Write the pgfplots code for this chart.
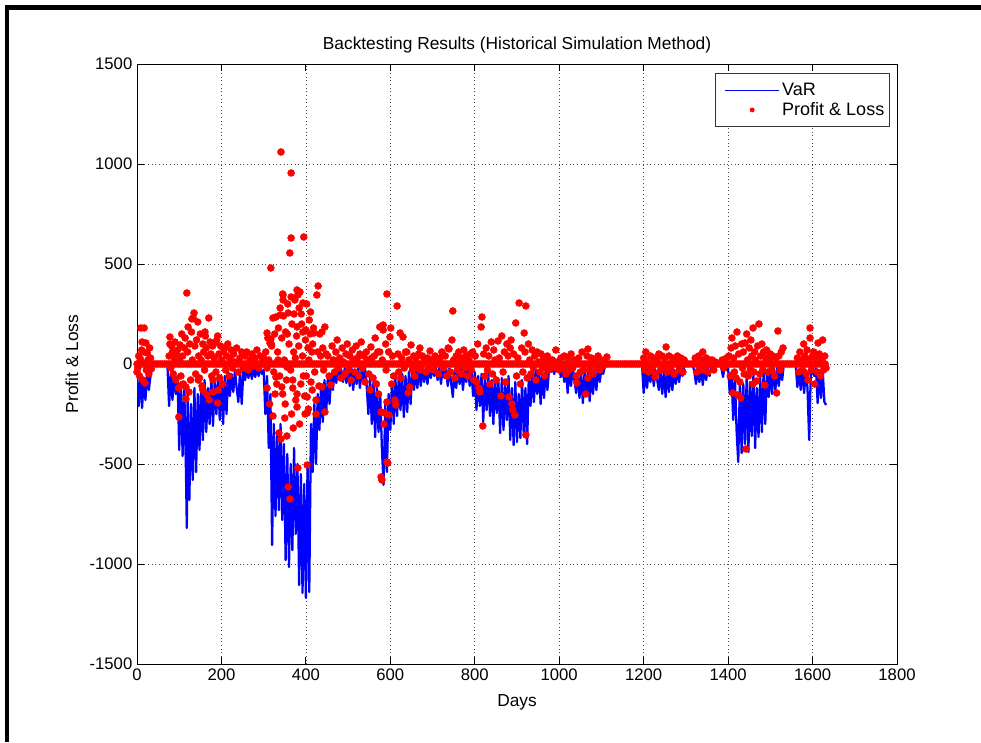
\documentclass[border=0pt]{standalone}
\usepackage{pgfplots}
\pgfplotsset{compat=1.18}
\usepackage{fontspec}
\setmainfont{Liberation Sans}

\begin{document}
\begin{tikzpicture}[x=0.75pt,y=0.75pt]
% page = 981 x 742 px, 1 px = 0.75pt
\useasboundingbox (0,0) rectangle (981,742);
% thick frame left and top (cropped window border)
\fill[black] (5,732) rectangle (981,737);
\fill[black] (5,0) rectangle (9,737);

\begin{axis}[
    at={(102.75pt,58.5pt)}, anchor=south west,
    scale only axis,
    width=570pt, height=450pt,
    xmin=0, xmax=1800, ymin=-1500, ymax=1500,
    xtick={0,200,...,1800},
    ytick={-1500,-1000,...,1500},
    scaled ticks=false,
    /pgf/number format/1000 sep={},
    /pgf/number format/assume math mode=true,
    tick label style={font=\fontsize{12.5}{14}\selectfont},
    label style={font=\fontsize{13}{15}\selectfont},
    every axis title shift=0pt,
    title style={font=\fontsize{13}{15}\selectfont, at={(axis description cs:0.5,1.0317)}, anchor=center},
    title={Backtesting Results (Historical Simulation Method)},
    xlabel={Days},
    ylabel={Profit \& Loss},
    xlabel style={at={(axis description cs:0.5,-0.0633)}, anchor=center},
    ylabel style={at={(axis description cs:-0.0855,0.5)}, anchor=center},
    tick align=inside,
    major tick length=5.25pt,
    xtick pos=both, ytick pos=both,
    axis line style={black, line width=0.6pt},
    every tick/.style={black, line width=0.6pt},
    grid=major,
    major grid style={black!70, line width=0.55pt, dash pattern=on 0.55pt off 2.2pt},
    legend style={at={(1,1)}, anchor=north east, xshift=-5.25pt, yshift=-6.75pt,
        draw=black!80, line width=0.6pt, fill=white,
        font=\fontsize{13.5}{15}\selectfont, inner xsep=2pt, inner ysep=5pt,
        row sep=0pt},
    legend cell align=left,
]

% VaR (historical simulation)
\addplot[color=blue, line width=1.7pt, line join=round,
    legend image code/.code={\path[draw=none] (-5pt,0pt) -- (40.5pt,0pt);
        \draw[blue,line width=0.6pt] (0pt,0pt) -- (40.5pt,0pt);}]
coordinates {
(0,-60)(4,-210)(8,-50)(12,-220)(16,-70)(20,-180)(24,-40)(28,-130)(32,-60)(36,0)(72,0)
(76,-210)(80,-50)(84,-180)(88,-40)(92,-150)(96,-60)(100,-430)(104,-90)(108,-460)(112,-120)
(116,-540)(118,-820)(120,-150)(124,-680)(128,-200)(132,-580)(136,-120)(140,-540)(144,-150)(148,-430)
(152,-100)(156,-380)(160,-80)(164,-340)(168,-120)(172,-300)(176,-60)(180,-310)(184,-90)(188,-250)
(192,-50)(196,-280)(200,-70)(204,-300)(208,-60)(212,-250)(216,-40)(220,-160)(224,-50)(228,-140)
(232,-30)(236,-120)(240,-190)(244,-40)(248,-200)(252,-30)(256,-80)(260,-20)(264,-70)(268,-20)
(272,-75)(276,-20)(280,-65)(284,-20)(288,-60)(292,-15)(296,-50)(300,-30)(304,-250)(308,-60)
(312,-420)(316,-150)(320,-905)(324,-300)(328,-760)(332,-350)(336,-730)(340,-300)(344,-780)(348,-400)
(352,-980)(356,-450)(360,-1015)(364,-500)(368,-930)(372,-420)(376,-850)(380,-500)(384,-1105)(388,-550)
(392,-1145)(396,-600)(400,-1170)(404,-500)(408,-1140)(412,-300)(416,-540)(420,-200)(424,-500)(428,-150)
(432,-330)(436,-100)(440,-290)(444,-80)(448,-250)(452,-60)(456,-200)(460,-50)(464,-130)(468,-30)
(472,-95)(476,-20)(480,-80)(484,-30)(488,-90)(492,-20)(496,-95)(500,-30)(504,-110)(508,-20)
(512,-130)(516,-30)(520,-100)(524,-20)(528,-120)(532,-30)(536,-90)(540,-20)(544,-110)(548,-250)
(552,-60)(556,-300)(560,-90)(564,-365)(568,-120)(572,-340)(576,-150)(580,-420)(584,-605)(588,-200)
(592,-540)(596,-150)(600,-330)(604,-90)(608,-300)(612,-70)(616,-260)(620,-60)(624,-230)(628,-50)
(632,-265)(636,-60)(640,-240)(644,-40)(648,-200)(652,-30)(656,-130)(660,-30)(664,-120)(668,-20)
(672,-110)(676,-20)(680,-90)(684,-20)(688,-100)(692,-15)(696,-70)(700,-15)(704,-60)(708,-15)
(712,-80)(716,-20)(720,-100)(724,-15)(728,-70)(732,-20)(736,-110)(740,-20)(744,-95)(748,-165)
(752,-30)(756,-120)(760,-20)(764,-100)(768,-20)(772,-130)(776,-30)(780,-90)(784,-15)(788,-110)
(792,-30)(796,-160)(800,-40)(804,-230)(808,-60)(812,-210)(816,-50)(820,-290)(824,-70)(828,-230)
(832,-50)(836,-260)(840,-80)(844,-300)(848,-60)(852,-245)(856,-90)(860,-345)(864,-70)(868,-330)
(872,-100)(876,-280)(880,-60)(884,-380)(888,-120)(892,-405)(896,-90)(900,-390)(904,-150)(908,-370)
(912,-80)(916,-355)(920,-120)(924,-400)(928,-60)(932,-210)(936,-40)(940,-190)(944,-30)(948,-150)
(952,-30)(956,-200)(960,-40)(964,-170)(968,-20)(972,-130)(976,-20)(980,-40)(984,-15)(988,-50)
(992,-15)(996,-30)(1000,-15)(1004,-65)(1008,-20)(1012,-90)(1016,-20)(1020,-145)(1024,-30)(1028,-110)
(1032,-20)(1036,-80)(1040,-145)(1044,-40)(1048,-170)(1052,-50)(1056,-195)(1060,-40)(1064,-160)(1068,-30)
(1072,-185)(1076,-40)(1080,-150)(1084,-30)(1088,-130)(1092,-20)(1096,-90)(1100,-20)(1104,-50)(1108,-15)
(1112,0)(1196,0)
(1200,-145)(1204,-30)(1208,-120)(1212,-20)(1216,-90)(1220,-15)(1224,-110)(1228,-30)(1232,-80)(1236,-130)
(1240,-30)(1244,-150)(1248,-40)(1252,-165)(1256,-30)(1260,-140)(1264,-20)(1268,-130)(1272,-30)(1276,-100)
(1280,-20)(1284,-90)(1288,-15)(1292,-60)(1296,-10)(1300,0)(1316,0)
(1320,-40)(1324,-100)(1328,-20)(1332,-90)(1336,-15)(1340,-105)(1344,-20)(1348,-80)(1352,-15)(1356,-60)
(1360,-20)(1364,-10)(1368,-30)(1372,0)(1380,0)(1384,-20)(1388,-65)(1392,-10)(1396,-30)(1400,-20)
(1404,-150)(1408,-40)(1412,-280)(1416,-60)(1420,-330)(1424,-490)(1428,-80)(1432,-445)(1436,-100)(1440,-400)
(1444,-60)(1448,-440)(1452,-90)(1456,-360)(1460,-50)(1464,-420)(1468,-120)(1472,-365)(1476,-60)(1480,-340)
(1484,-40)(1488,-300)(1492,-30)(1496,-165)(1500,-30)(1504,-150)(1508,-20)(1512,-130)(1516,-20)(1520,-110)
(1524,-20)(1528,-80)(1532,0)(1560,0)
(1564,-115)(1568,-30)(1572,-130)(1576,-20)(1580,-145)(1584,-30)(1588,-120)(1592,-380)(1596,-30)(1600,-40)
(1604,-60)(1608,-20)(1612,-195)(1616,-40)(1620,-170)(1624,-30)(1628,-190)(1632,-205)
};
\addlegendentry{VaR}

% Profit & Loss, non-zero days
\addplot[only marks, mark=*, mark size=2.6pt, mark options={draw=red, fill=red},
    legend image code/.code={\path[draw=none] (-5pt,0pt) -- (40.5pt,0pt);
        \fill[red] (20.25pt,0pt) circle (1.5pt);}]
coordinates {
(0,-40)(2,-20)(4,40)(6,-60)(8,25)(9,180)(11,70)(12,110)(14,-80)(16,60)(17,180)(19,-95)(21,105)
(22,-30)(24,55)(26,20)(28,-50)(30,80)(32,30)(34,-25)
(76,40)(78,135)(78,100)(80,-20)(82,90)(84,60)(86,-50)(88,30)(90,110)(92,-80)(94,45)(96,70)(98,-120)
(99,-265)(100,20)(102,95)(102,-110)(104,-60)(106,150)(108,40)(110,-100)(112,80)(114,130)(116,-175)
(116,-115)(118,355)(120,60)(121,185)(123,-140)(125,100)(127,-80)(129,160)(130,225)(131,20)(133,230)
(135,255)(137,90)(139,-50)(141,120)(144,210)(145,-80)(146,40)(148,-70)(150,150)(152,20)(154,-110)
(156,100)(156,-130)(158,60)(160,-30)(161,160)(162,140)(164,80)(166,-155)(168,40)(170,230)(171,-180)
(173,110)(175,50)(177,-60)(179,90)(180,-80)(181,-140)(183,30)(185,105)(187,-40)(189,120)(191,140)
(191,-195)(193,-130)(194,50)(196,-70)(198,90)(200,20)(203,-100)(205,60)(208,80)(210,-30)(212,40)
(215,100)(218,-60)(220,30)(223,70)(226,-20)(229,50)(232,10)(236,80)(240,-40)(244,30)(248,60)
(252,-20)(256,40)(260,60)(264,-30)(268,20)(272,50)(276,-10)(280,30)(284,70)(288,-20)(292,40)
(296,10)(300,30)(303,20)
(305,60)(308,-120)(308,155)(308,-20)(310,130)(312,20)(314,-200)(315,105)(317,480)(317,125)(318,100)
(319,90)(322,230)(322,-260)(324,-40)(326,150)(327,-150)(329,235)(329,-65)(331,-100)(333,60)(334,20)
(335,180)(336,-345)(338,-60)(339,280)(339,245)(341,1060)(341,-375)(343,130)(343,-115)(345,-150)
(345,350)(346,345)(346,320)(347,240)(349,20)(350,-270)(351,-200)(352,160)(354,-80)(355,-360)
(355,-15)(356,150)(357,300)(358,-615)(358,255)(360,100)(362,555)(362,-675)(364,-30)(365,955)
(365,630)(365,335)(366,-250)(367,200)(369,-120)(369,-80)(370,-320)(371,60)(372,250)(374,320)
(375,30)(376,-180)(378,140)(379,370)(379,-215)(379,185)(379,-150)(381,-520)(381,345)(383,90)
(383,360)(384,280)(385,-300)(386,360)(388,-100)(389,250)(390,200)(392,40)(393,305)(393,160)
(394,-60)(395,635)(397,-160)(398,-250)(399,120)(400,170)(401,-60)(402,300)(403,-505)(403,-245)
(403,-165)(405,80)(406,-225)(407,20)(408,220)(410,150)(411,260)(412,-90)(414,60)(415,-130)
(416,100)(418,180)(419,155)(421,-40)(424,-180)(424,-250)(426,345)(428,60)(429,390)(431,-110)
(433,150)(435,40)(438,160)(438,-115)(440,80)(442,-30)(445,185)(445,-240)(448,50)
(452,40)(455,-60)(459,-105)(462,90)(465,20)(468,-40)(471,60)(474,120)(477,-20)(480,30)
(483,-70)(486,80)(489,10)(492,-50)(495,50)(498,100)(501,-30)(504,40)(507,-80)(510,70)
(513,20)(516,-40)(519,90)(522,30)(525,-60)(528,50)(531,110)(534,-20)(537,40)(540,-90)
(543,60)(546,20)(549,-50)(552,-130)(554,85)(556,30)(559,-70)(562,40)(564,130)
(567,-100)(570,60)(572,-150)(575,60)(575,185)(578,-565)(578,-240)(580,-580)(581,20)(583,195)
(583,170)(585,-300)(587,-245)(589,100)(590,-30)(592,350)(592,-490)(592,-190)(594,-495)(596,60)
(597,-255)(599,135)(601,180)(603,-100)(605,40)(608,-60)(611,-180)(613,-205)(616,290)(618,50)
(620,-40)(623,155)(625,-70)(627,30)(630,135)(633,-20)(636,60)(639,60)(642,-145)(644,20)
(646,-115)(649,95)(652,-30)(655,40)(658,-60)(661,30)(664,-20)(667,50)(670,80)(673,-30)
(676,40)(680,20)(684,-40)(688,30)(692,-20)(694,65)(698,20)
(702,-30)(706,40)(710,10)(714,-50)(718,30)(722,60)(726,-20)(730,40)(734,-60)(737,80)
(739,75)(742,-40)(746,120)(748,265)(750,20)(753,-70)(756,40)(759,-30)(762,60)(765,10)
(768,-50)(771,30)(774,70)(777,-20)(780,40)(783,-60)(786,20)(789,50)(792,-30)(795,60)(798,-80)
(801,40)(804,-90)(807,100)(810,-120)(812,-140)(815,185)(817,235)(819,-310)(821,50)(824,-60)
(827,80)(830,-30)(833,40)(836,-100)(839,110)(842,-50)(845,70)(848,20)(851,-80)(855,115)
(858,30)(862,-160)(864,140)(867,-40)(870,60)(873,-90)(876,100)(879,40)(881,-165)(884,80)
(886,120)(888,-200)(890,-230)(892,50)(895,-255)(897,205)(899,-60)(902,30)(905,305)(908,-100)
(911,80)(914,-40)(917,155)(919,60)(921,290)(921,-355)(924,-70)(927,100)(930,20)(933,-50)
(936,70)(939,-20)(942,40)(945,-80)(948,60)(951,10)(954,-40)(957,50)(960,-20)(963,30)
(966,-60)(969,20)(972,40)(975,-30)(978,20)
(984,20)(988,-20)(992,70)(996,10)(1000,-30)(1004,30)(1008,-20)(1012,40)(1016,-50)(1020,30)
(1024,-30)(1028,50)(1032,-20)(1036,20)(1040,-60)(1042,-95)(1046,30)(1050,-40)(1054,60)(1058,-30)
(1063,-150)(1066,40)(1068,75)(1068,-70)(1072,-30)(1076,30)(1080,-50)(1084,20)(1088,-20)(1092,40)
(1096,-30)(1100,20)(1104,-10)(1108,20)(1113,35)
(1200,30)(1203,-30)(1205,60)(1208,10)(1212,-40)(1216,40)(1220,-20)(1224,30)(1227,-65)(1228,-50)
(1232,20)(1236,50)(1240,-30)(1244,40)(1248,-20)(1250,30)(1253,85)(1256,-40)(1260,40)(1264,-20)
(1268,30)(1272,-50)(1276,20)(1280,40)(1284,-30)(1288,30)(1293,-40)(1296,20)
(1322,30)(1326,-40)(1330,40)(1334,-30)(1338,20)(1340,60)(1344,-30)(1348,30)(1352,-40)(1356,20)
(1362,20)(1366,-30)(1370,10)(1386,20)(1390,-20)(1396,30)
(1402,40)(1405,-60)(1407,80)(1409,130)(1411,-145)(1413,30)(1415,-40)(1417,90)(1419,-70)(1421,160)
(1423,-155)(1425,50)(1428,-90)(1430,-170)(1432,100)(1434,-20)(1436,60)(1438,-50)(1440,105)(1442,-425)
(1444,150)(1446,20)(1448,-60)(1450,80)(1452,-30)(1454,120)(1456,40)(1459,180)(1459,-100)(1461,-40)
(1463,60)(1465,20)(1468,-85)(1470,90)(1473,200)(1475,-50)(1477,40)(1480,100)(1482,-30)(1484,60)
(1487,-105)(1489,30)(1491,70)(1494,-40)(1497,20)(1500,50)(1503,-30)(1506,40)(1510,-60)(1513,30)
(1515,-145)(1518,165)(1520,40)(1523,-30)(1526,60)(1530,80)
(1564,30)(1567,-40)(1570,60)(1573,20)(1576,-30)(1579,100)(1582,40)(1585,-50)(1587,70)(1589,-80)
(1591,20)(1594,180)(1594,130)(1597,-30)(1600,40)(1603,60)(1605,-100)(1608,30)(1611,-40)(1613,105)
(1616,50)(1619,-60)(1622,20)(1624,120)(1626,-30)(1629,40)(1632,-20)
};
\addlegendentry{Profit \& Loss}

% Profit & Loss, days with zero result (solid band at 0)
\addplot[only marks, mark=*, mark size=2.6pt, mark options={draw=red, fill=red}, forget plot]
coordinates {
(0,0)(5,0)(10,0)(15,0)(20,0)(25,0)(30,0)(35,0)(40,0)(45,0)(50,0)(55,0)(60,0)(65,0)(70,0)(75,0)(80,0)(85,0)(90,0)(95,0)
(100,0)(105,0)(110,0)(115,0)(120,0)(125,0)(130,0)(135,0)(140,0)(145,0)(150,0)(155,0)(160,0)(165,0)(170,0)(175,0)(180,0)(185,0)(190,0)(195,0)
(200,0)(205,0)(210,0)(215,0)(220,0)(225,0)(230,0)(235,0)(240,0)(245,0)(250,0)(255,0)(260,0)(265,0)(270,0)(275,0)(280,0)(285,0)(290,0)(295,0)
(300,0)(305,0)(310,0)(315,0)(320,0)(325,0)(330,0)(335,0)(340,0)(345,0)(350,0)(355,0)(360,0)(365,0)(370,0)(375,0)(380,0)(385,0)(390,0)(395,0)
(400,0)(405,0)(410,0)(415,0)(420,0)(425,0)(430,0)(435,0)(440,0)(445,0)(450,0)(455,0)(460,0)(465,0)(470,0)(475,0)(480,0)(485,0)(490,0)(495,0)
(500,0)(505,0)(510,0)(515,0)(520,0)(525,0)(530,0)(535,0)(540,0)(545,0)(550,0)(555,0)(560,0)(565,0)(570,0)(575,0)(580,0)(585,0)(590,0)(595,0)
(600,0)(605,0)(610,0)(615,0)(620,0)(625,0)(630,0)(635,0)(640,0)(645,0)(650,0)(655,0)(660,0)(665,0)(670,0)(675,0)(680,0)(685,0)(690,0)(695,0)
(700,0)(705,0)(710,0)(715,0)(720,0)(725,0)(730,0)(735,0)(740,0)(745,0)(750,0)(755,0)(760,0)(765,0)(770,0)(775,0)(780,0)(785,0)(790,0)(795,0)
(800,0)(805,0)(810,0)(815,0)(820,0)(825,0)(830,0)(835,0)(840,0)(845,0)(850,0)(855,0)(860,0)(865,0)(870,0)(875,0)(880,0)(885,0)(890,0)(895,0)
(900,0)(905,0)(910,0)(915,0)(920,0)(925,0)(930,0)(935,0)(940,0)(945,0)(950,0)(955,0)(960,0)(965,0)(970,0)(975,0)(980,0)(985,0)(990,0)(995,0)
(1000,0)(1005,0)(1010,0)(1015,0)(1020,0)(1025,0)(1030,0)(1035,0)(1040,0)(1045,0)(1050,0)(1055,0)(1060,0)(1065,0)(1070,0)(1075,0)(1080,0)(1085,0)(1090,0)(1095,0)
(1100,0)(1105,0)(1110,0)(1115,0)(1120,0)(1125,0)(1130,0)(1135,0)(1140,0)(1145,0)(1150,0)(1155,0)(1160,0)(1165,0)(1170,0)(1175,0)(1180,0)(1185,0)(1190,0)(1195,0)
(1200,0)(1205,0)(1210,0)(1215,0)(1220,0)(1225,0)(1230,0)(1235,0)(1240,0)(1245,0)(1250,0)(1255,0)(1260,0)(1265,0)(1270,0)(1275,0)(1280,0)(1285,0)(1290,0)(1295,0)
(1300,0)(1305,0)(1310,0)(1315,0)(1320,0)(1325,0)(1330,0)(1335,0)(1340,0)(1345,0)(1350,0)(1355,0)(1360,0)(1365,0)(1370,0)(1375,0)(1380,0)(1385,0)(1390,0)(1395,0)
(1400,0)(1405,0)(1410,0)(1415,0)(1420,0)(1425,0)(1430,0)(1435,0)(1440,0)(1445,0)(1450,0)(1455,0)(1460,0)(1465,0)(1470,0)(1475,0)(1480,0)(1485,0)(1490,0)(1495,0)
(1500,0)(1505,0)(1510,0)(1515,0)(1520,0)(1525,0)(1530,0)(1535,0)(1540,0)(1545,0)(1550,0)(1555,0)(1560,0)(1565,0)(1570,0)(1575,0)(1580,0)(1585,0)(1590,0)(1595,0)
(1600,0)(1605,0)(1610,0)(1615,0)(1620,0)(1625,0)(1630,0)
};
\end{axis}
\end{tikzpicture}
\end{document}
